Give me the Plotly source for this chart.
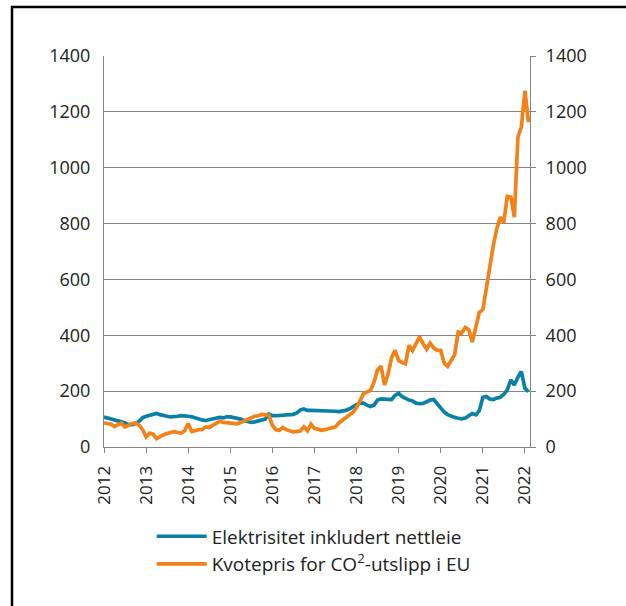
import plotly.graph_objects as go
import pandas as pd

months = pd.date_range("2012-01-01", "2022-02-01", freq="MS").strftime("%Y-%m-%d").tolist()

elektrisitet = [
    107, 104, 100, 97, 94, 90, 86, 80, 80, 84, 92, 105,          # 2012
    110, 114, 117, 120, 116, 112, 110, 108, 108, 110, 112, 112,  # 2013
    110, 108, 104, 100, 97, 95, 98, 102, 105, 106, 104, 108,     # 2014
    108, 106, 103, 100, 95, 90, 88, 90, 94, 98, 100, 118,        # 2015
    112, 112, 113, 114, 114, 116, 117, 122, 133, 136, 131, 131,  # 2016
    131, 130, 130, 129, 129, 129, 128, 127, 128, 131, 137, 146,  # 2017
    152, 158, 157, 150, 145, 150, 168, 172, 172, 173, 170, 185,  # 2018
    192, 180, 173, 168, 165, 157, 155, 156, 162, 168, 170, 155,  # 2019
    140, 125, 116, 110, 106, 103, 101, 104, 113, 120, 115, 130,  # 2020
    178, 181, 172, 170, 175, 178, 188, 205, 240, 222, 250, 270,  # 2021
    210, 198,                                                    # 2022
]

kvotepris = [
    86, 84, 82, 74, 80, 86, 72, 78, 84, 86, 78, 62,              # 2012
    36, 50, 46, 30, 38, 44, 48, 52, 55, 52, 50, 58,              # 2013
    84, 55, 60, 62, 62, 72, 70, 78, 88, 92, 88, 86,              # 2014
    86, 84, 83, 88, 93, 100, 106, 110, 112, 117, 115, 113,       # 2015
    78, 62, 60, 70, 62, 58, 54, 56, 58, 72, 58, 82,              # 2016
    66, 64, 60, 62, 66, 68, 72, 86, 95, 105, 113, 125,           # 2017
    141, 170, 190, 197, 202, 232, 275, 290, 222, 260, 320, 346,  # 2018
    310, 302, 298, 364, 345, 370, 394, 370, 350, 372, 355, 346,  # 2019
    346, 300, 289, 310, 330, 412, 408, 428, 420, 376, 432, 482,  # 2020
    492, 572, 640, 720, 780, 823, 804, 897, 895, 823, 1109, 1145,  # 2021
    1276, 1163,                                                  # 2022
]

series_names = ["Elektrisitet inkludert nettleie", "Kvotepris for CO<sup>2</sup>-utslipp i EU"]
y_ticks = [0, 200, 400, 600, 800, 1000, 1200, 1400]
x_ticks = [f"{y}-01-01" for y in range(2012, 2023)]
x_ticklabels = [str(y) for y in range(2012, 2023)]

BLUE = "#0b80a6"
ORANGE = "#f28118"
GRID = "#858585"
FONT = "Open Sans"

fig = go.Figure()
fig.add_trace(go.Scatter(x=months, y=elektrisitet, name=series_names[0], mode="lines",
                         line=dict(color=BLUE, width=3.7)))
fig.add_trace(go.Scatter(x=months, y=kvotepris, name=series_names[1], mode="lines",
                         line=dict(color=ORANGE, width=3.7), yaxis="y2"))

yax = dict(range=[0, 1400], tickvals=y_ticks, showgrid=True, gridcolor=GRID, gridwidth=1,
           showline=True, linecolor=GRID, linewidth=1, zeroline=False,
           tickfont=dict(family=FONT, size=18, color="#222"))

fig.update_layout(
    width=626, height=606,
    margin=dict(l=104, r=96, t=56, b=159),
    paper_bgcolor="white", plot_bgcolor="white",
    font=dict(family=FONT, color="#222"),
    xaxis=dict(range=["2012-01-01", "2022-02-14"], tickvals=x_ticks, ticktext=x_ticklabels,
               tickangle=-90, ticks="outside", ticklen=5, tickcolor=GRID,
               showline=True, linecolor=GRID, linewidth=1, showgrid=False, zeroline=False,
               ticklabelstandoff=6,
               tickfont=dict(family=FONT, size=17, color="#222")),
    yaxis=dict(**yax, side="left", ticks="", ticklabelstandoff=9),
    yaxis2=dict(**yax, side="right", overlaying="y", ticks="outside", ticklen=5, tickcolor=GRID,
                ticklabelstandoff=6),
    legend=dict(x=0.112, y=-0.18, xanchor="left", yanchor="top", orientation="v",
                font=dict(family=FONT, size=19, color="#222"), itemwidth=50,
                tracegroupgap=0, bgcolor="rgba(0,0,0,0)"),
    shapes=[dict(type="rect", xref="paper", yref="paper",
                 x0=(12 - 104) / 426, x1=(700 - 104) / 426,
                 y0=-1, y1=(447 - 7) / 391,
                 line=dict(color="black", width=2.5), fillcolor="rgba(0,0,0,0)", layer="below")],
)

fig.write_html("out.html", config={"displayModeBar": False},
               post_script="document.body.style.margin='0';document.body.style.overflow='hidden';")
